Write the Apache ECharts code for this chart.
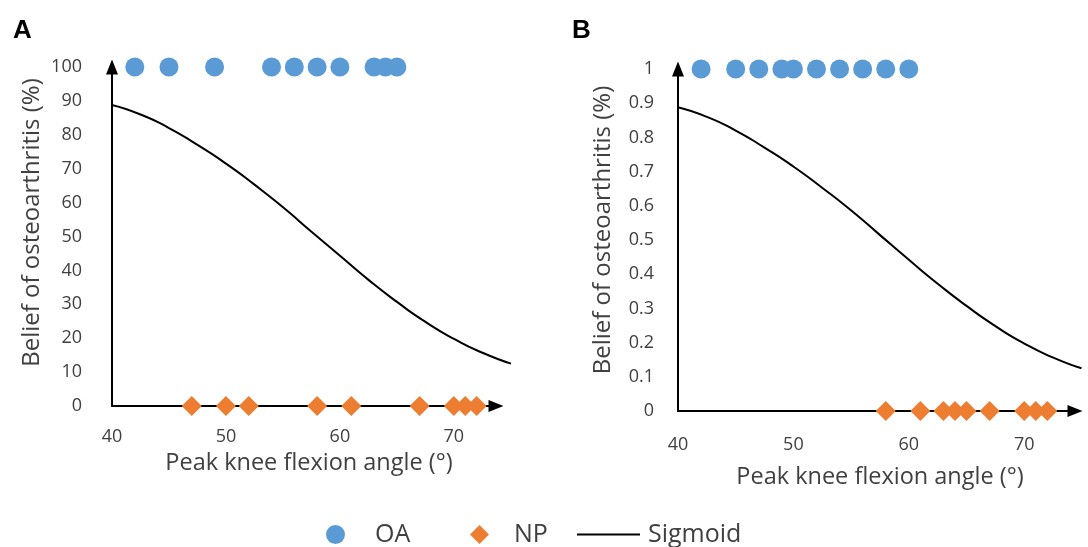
<!DOCTYPE html>
<html>
<head>
<meta charset="utf-8">
<script src="https://cdn.jsdelivr.net/npm/echarts@6/dist/echarts.min.js"></script>
<style>
  html, body { margin: 0; padding: 0; background: #fff; }
  #chart { width: 1088px; height: 547px; }
</style>
</head>
<body>
<div id="chart"></div>
<script>
// peak knee flexion angle of each subject
var oaAngleA = [42, 45, 49, 54, 56, 58, 60, 63, 64, 65];
var npAngleA = [47, 50, 52, 58, 61, 67, 70, 71, 72];
var oaAngleB = [42, 45, 47, 49, 50, 52, 54, 56, 58, 60];
var npAngleB = [58, 61, 63, 64, 65, 67, 70, 71, 72];

// sigmoid curve
var sigX = [40, 42.5, 45, 47.5, 50, 52.5, 55, 57.5, 60, 62.5, 65, 67.5, 70, 72.5, 75];
var sigA = [88.8, 86, 82, 77, 71.5, 65.3, 58.6, 51.4, 44.3, 37.2, 30.7, 24.8, 19.8, 15.7, 12.5];
var sigB = [0.888, 0.86, 0.82, 0.77, 0.715, 0.653, 0.587, 0.515, 0.443, 0.373, 0.308, 0.249, 0.198, 0.157, 0.125];

var blue = '#5B9BD5';
var orange = '#ED7D31';
var txt = '#404040';
var font = 'Open Sans';

function pts(xs, y) {
  return xs.map(function (x) { return [x, y]; });
}
function curve(xs, ys) {
  return xs.map(function (x, i) { return [x, ys[i]]; });
}

var axisLine = {
  show: true,
  symbol: ['none', 'triangle'],
  symbolSize: [12, 15],
  lineStyle: { color: '#000', width: 2 }
};

function xAxis(grid, max, margin, gap, shift) {
  return {
    type: 'value', gridIndex: grid, min: 40, max: max, interval: 10,
    name: 'Peak knee flexion angle (°)', nameLocation: 'middle', nameGap: gap,
    nameTextStyle: { color: txt, fontSize: 23.5, fontFamily: font, padding: [0, 0, 0, shift] },
    axisLine: axisLine,
    axisTick: { show: false },
    splitLine: { show: false },
    axisLabel: { color: txt, fontSize: 18, fontFamily: font, margin: margin, showMaxLabel: false }
  };
}
function yAxis(grid, max, step, margin, gap, shift) {
  return {
    type: 'value', gridIndex: grid, min: 0, max: max, interval: step,
    name: 'Belief of osteoarthritis (%)', nameLocation: 'middle', nameGap: gap,
    nameTextStyle: { color: txt, fontSize: 24, fontFamily: font, padding: [0, 0, 0, shift] },
    axisLine: axisLine,
    axisTick: { show: false },
    splitLine: { show: false },
    axisLabel: { color: txt, fontSize: 18, fontFamily: font, margin: margin }
  };
}
// hidden axes for the curve, running the full 40..75 span
function hidden(grid, min, max) {
  return { type: 'value', gridIndex: grid, min: min, max: max, show: false };
}

var dom = document.getElementById('chart');
var myChart = echarts.init(dom, null, { renderer: 'canvas' });

var option = {
  animation: false,
  backgroundColor: '#fff',
  title: [
    { text: 'A', left: 8, top: 13, textStyle: { fontSize: 26, fontWeight: 'bold', color: '#000', fontFamily: 'Liberation Sans' } },
    { text: 'B', left: 567, top: 13, textStyle: { fontSize: 26, fontWeight: 'bold', color: '#000', fontFamily: 'Liberation Sans' } }
  ],
  legend: [
    { data: ['OA'], left: 326, top: 522, padding: 0, itemWidth: 19, itemHeight: 19,
      textStyle: { color: txt, fontSize: 25, fontFamily: font, padding: [0, 0, 0, 25] } },
    { data: ['NP'], left: 470, top: 522, padding: 0, itemWidth: 19, itemHeight: 19,
      textStyle: { color: txt, fontSize: 25, fontFamily: font, padding: [0, 0, 0, 20] } },
    { data: [{ name: 'Sigmoid', icon: 'rect' }], left: 577, top: 522, padding: 0, itemWidth: 63, itemHeight: 2,
      textStyle: { color: txt, fontSize: 25, fontFamily: font, padding: [0, 0, 0, 3] } }
  ],
  grid: [
    { left: 112, top: 67, width: 384, height: 339 },
    { left: 678, top: 69, width: 397, height: 342 },
    { left: 112, top: 67, width: 399, height: 339 },
    { left: 678, top: 69, width: 403.5, height: 342 }
  ],
  xAxis: [xAxis(0, 73.7, 22, 45, 10), xAxis(1, 74.4, 25, 54, 7), hidden(2, 40, 75), hidden(3, 40, 75)],
  yAxis: [yAxis(0, 100, 10, 30, 68, 28), yAxis(1, 1, 0.1, 24, 63, 20), hidden(2, 0, 100), hidden(3, 0, 1)],
  series: [
    { name: 'Sigmoid', type: 'line', xAxisIndex: 2, yAxisIndex: 2, data: curve(sigX, sigA),
      smooth: 0.6, symbol: 'none', color: '#000', lineStyle: { color: '#000', width: 2 }, z: 1 },
    { name: 'OA', type: 'scatter', xAxisIndex: 0, yAxisIndex: 0, data: pts(oaAngleA, 100),
      symbol: 'circle', symbolSize: 19, itemStyle: { color: blue, opacity: 1 }, clip: false, z: 3 },
    { name: 'NP', type: 'scatter', xAxisIndex: 0, yAxisIndex: 0, data: pts(npAngleA, 0),
      symbol: 'diamond', symbolSize: 20, itemStyle: { color: orange, opacity: 1 }, clip: false, z: 3 },
    { name: 'Sigmoid', type: 'line', xAxisIndex: 3, yAxisIndex: 3, data: curve(sigX, sigB),
      smooth: 0.6, symbol: 'none', color: '#000', lineStyle: { color: '#000', width: 2 }, z: 1 },
    { name: 'OA', type: 'scatter', xAxisIndex: 1, yAxisIndex: 1, data: pts(oaAngleB, 1),
      symbol: 'circle', symbolSize: 19, itemStyle: { color: blue, opacity: 1 }, clip: false, z: 3 },
    { name: 'NP', type: 'scatter', xAxisIndex: 1, yAxisIndex: 1, data: pts(npAngleB, 0),
      symbol: 'diamond', symbolSize: 20, itemStyle: { color: orange, opacity: 1 }, clip: false, z: 3 }
  ]
};

myChart.setOption(option);
window.addEventListener('resize', myChart.resize);
</script>
</body>
</html>
